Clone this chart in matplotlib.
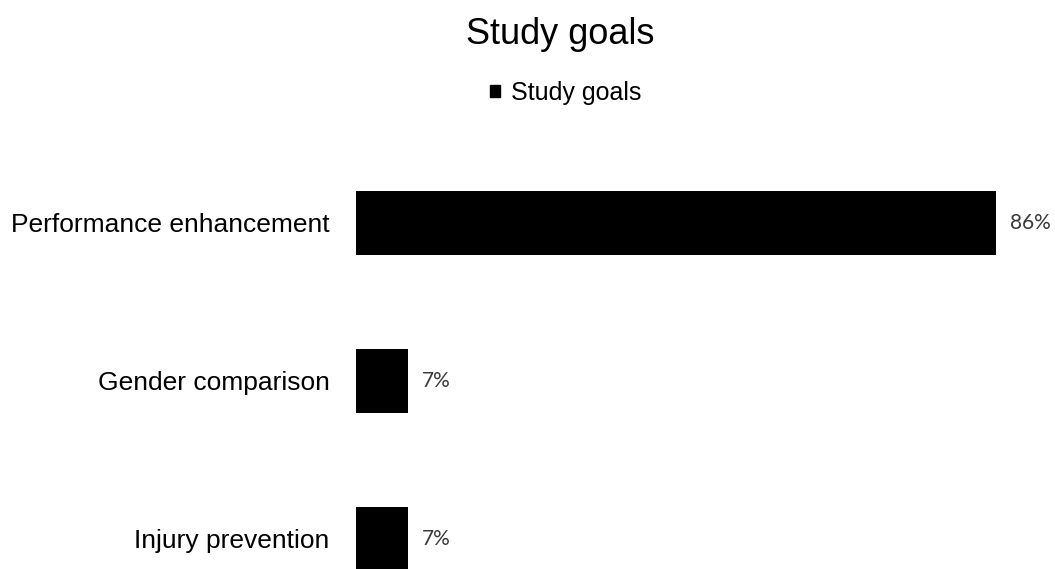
import matplotlib.pyplot as plt
from matplotlib.patches import Patch

categories = ['Injury prevention', 'Gender comparison', 'Performance enhancement']
values = [7, 7, 86]
labels = ['7%', '7%', '86%']

plt.rcParams['font.family'] = ['Liberation Sans', 'DejaVu Sans']

fig = plt.figure(figsize=(10.55, 5.69), dpi=100)
# axes from x pixel 356 to 1040, y pixel 140 to 569
ax = fig.add_axes([356/1055, 0, (1040-356)/1055, (569-140)/569])

pos = list(range(len(categories)))
ax.barh(pos, values, height=0.4, color='black')

for p, v, t in zip(pos, values, labels):
    ax.text(v + 1.9, p, t, va='center', ha='left', fontsize=15,
            family=['Lato', 'DejaVu Sans'], color='#3a3a3a')

ax.set_xlim(0, (1040-356)/(640/86))
ax.set_ylim(-0.19, 2 + (223-140)/158)
ax.set_yticks(pos)
ax.set_yticklabels(categories, fontsize=19)
ax.tick_params(axis='y', length=0, pad=19)
ax.set_xticks([])
for s in ax.spines.values():
    s.set_visible(False)

fig.text(560/1055, 1 - 34/569, 'Study goals', ha='center', va='center', fontsize=26)
fig.legend(handles=[Patch(color='black', label='Study goals')], loc='center',
           bbox_to_anchor=(566/1055, 1 - 93/569), frameon=False, fontsize=18,
           handlelength=0.4, handleheight=0.4, handletextpad=0.45)

fig.savefig('out.png', dpi=100)
